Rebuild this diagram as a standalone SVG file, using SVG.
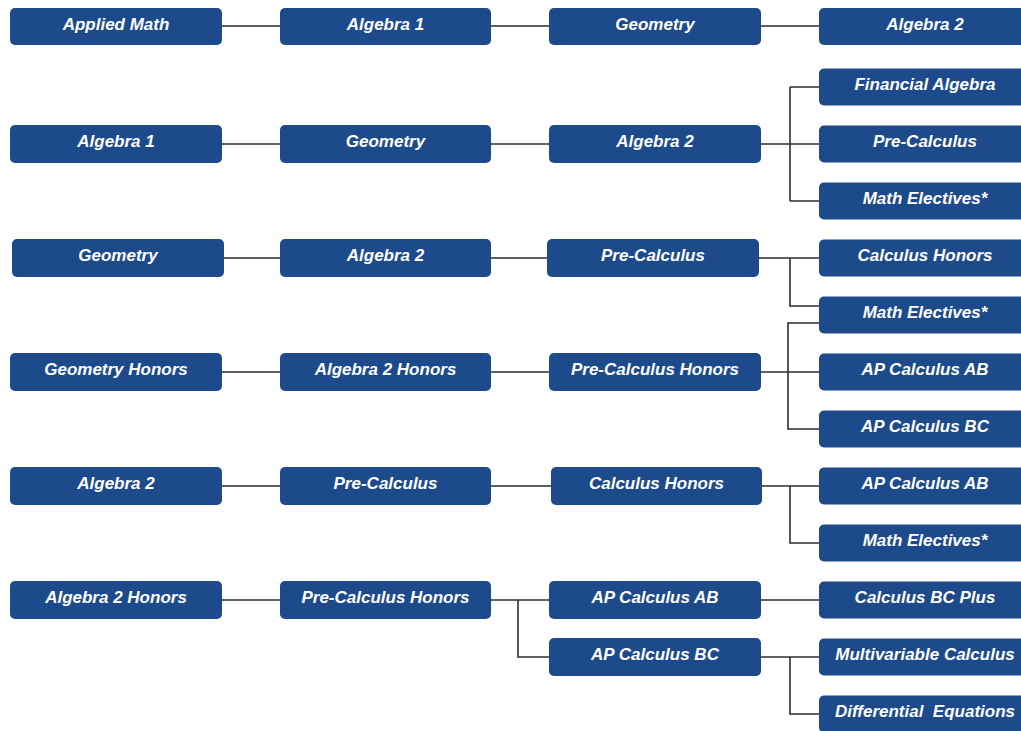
<svg xmlns="http://www.w3.org/2000/svg" width="1021" height="731" viewBox="0 0 1021 731">
<style>
.n rect{fill:#1c4a8b;}
.n text{fill:#ffffff;font-family:"Liberation Sans",Arial,sans-serif;font-size:17px;font-weight:bold;font-style:italic;text-anchor:middle;}
.c{stroke:#2e2e2e;stroke-width:1.6;fill:none;}
</style>
<rect width="1021" height="731" fill="#ffffff"/>
<g id="connectors" class="c">
<path d="M222 26H280M491 26H549M761 26H819"/>
<path d="M222 144H280M491 144H549M761 144H790M790 87V201M790 87H819M790 201H819M790 144H819"/>
<path d="M224 258H280M491 258H547M759 258H819M790 258V306H819"/>
<path d="M222 372H280M491 372H549M761 372H819M819 323H788V429H819"/>
<path d="M222 486H280M491 486H551M762 486H819M790 486V543H819"/>
<path d="M222 600H280M491 600H518M549 600H518V657H549M761 600H819M761 657H819M790 657V714H819"/>
</g>
<g id="r1c1" class="n"><rect x="10" y="8" width="212" height="37" rx="5"/><text x="116" y="29.5">Applied Math</text></g>
<g id="r1c2" class="n"><rect x="280" y="8" width="211" height="37" rx="5"/><text x="385.5" y="29.5">Algebra 1</text></g>
<g id="r1c3" class="n"><rect x="549" y="8" width="212" height="37" rx="5"/><text x="655" y="29.5">Geometry</text></g>
<g id="r1c4" class="n"><rect x="819" y="8" width="212" height="37" rx="5"/><text x="925" y="29.5">Algebra 2</text></g>

<g id="r2c1" class="n"><rect x="10" y="125" width="212" height="38" rx="5"/><text x="116" y="147">Algebra 1</text></g>
<g id="r2c2" class="n"><rect x="280" y="125" width="211" height="38" rx="5"/><text x="385.5" y="147">Geometry</text></g>
<g id="r2c3" class="n"><rect x="549" y="125" width="212" height="38" rx="5"/><text x="655" y="147">Algebra 2</text></g>
<g id="r2a" class="n"><rect x="819" y="68.5" width="212" height="37" rx="5"/><text x="925" y="90">Financial Algebra</text></g>
<g id="r2b" class="n"><rect x="819" y="125.5" width="212" height="37" rx="5"/><text x="925" y="147">Pre-Calculus</text></g>
<g id="r2c" class="n"><rect x="819" y="182.5" width="212" height="37" rx="5"/><text x="925" y="204">Math Electives*</text></g>

<g id="r3c1" class="n"><rect x="12" y="239" width="212" height="38" rx="5"/><text x="118" y="261">Geometry</text></g>
<g id="r3c2" class="n"><rect x="280" y="239" width="211" height="38" rx="5"/><text x="385.5" y="261">Algebra 2</text></g>
<g id="r3c3" class="n"><rect x="547" y="239" width="212" height="38" rx="5"/><text x="653" y="261">Pre-Calculus</text></g>
<g id="r3a" class="n"><rect x="819" y="239.5" width="212" height="37" rx="5"/><text x="925" y="261">Calculus Honors</text></g>
<g id="r3b" class="n"><rect x="819" y="296.5" width="212" height="37" rx="5"/><text x="925" y="318">Math Electives*</text></g>

<g id="r4c1" class="n"><rect x="10" y="353" width="212" height="38" rx="5"/><text x="116" y="375">Geometry Honors</text></g>
<g id="r4c2" class="n"><rect x="280" y="353" width="211" height="38" rx="5"/><text x="385.5" y="375">Algebra 2 Honors</text></g>
<g id="r4c3" class="n"><rect x="549" y="353" width="212" height="38" rx="5"/><text x="655" y="375">Pre-Calculus Honors</text></g>
<g id="r4a" class="n"><rect x="819" y="353.5" width="212" height="37" rx="5"/><text x="925" y="375">AP Calculus AB</text></g>
<g id="r4b" class="n"><rect x="819" y="410.5" width="212" height="37" rx="5"/><text x="925" y="432">AP Calculus BC</text></g>

<g id="r5c1" class="n"><rect x="10" y="467" width="212" height="38" rx="5"/><text x="116" y="489">Algebra 2</text></g>
<g id="r5c2" class="n"><rect x="280" y="467" width="211" height="38" rx="5"/><text x="385.5" y="489">Pre-Calculus</text></g>
<g id="r5c3" class="n"><rect x="551" y="467" width="211" height="38" rx="5"/><text x="656.5" y="489">Calculus Honors</text></g>
<g id="r5a" class="n"><rect x="819" y="467.5" width="212" height="37" rx="5"/><text x="925" y="489">AP Calculus AB</text></g>
<g id="r5b" class="n"><rect x="819" y="524.5" width="212" height="37" rx="5"/><text x="925" y="546">Math Electives*</text></g>

<g id="r6c1" class="n"><rect x="10" y="581" width="212" height="38" rx="5"/><text x="116" y="603">Algebra 2 Honors</text></g>
<g id="r6c2" class="n"><rect x="280" y="581" width="211" height="38" rx="5"/><text x="385.5" y="603">Pre-Calculus Honors</text></g>
<g id="r6c3a" class="n"><rect x="549" y="581" width="212" height="38" rx="5"/><text x="655" y="603">AP Calculus AB</text></g>
<g id="r6c3b" class="n"><rect x="549" y="638" width="212" height="38" rx="5"/><text x="655" y="660">AP Calculus BC</text></g>
<g id="r6a" class="n"><rect x="819" y="581.5" width="212" height="37" rx="5"/><text x="925" y="603">Calculus BC Plus</text></g>
<g id="r6b" class="n"><rect x="819" y="638.5" width="212" height="37" rx="5"/><text x="925" y="660">Multivariable Calculus</text></g>
<g id="r6c" class="n"><rect x="819" y="695.5" width="212" height="37" rx="5"/><text x="925" y="717" xml:space="preserve">Differential  Equations</text></g>
</svg>
